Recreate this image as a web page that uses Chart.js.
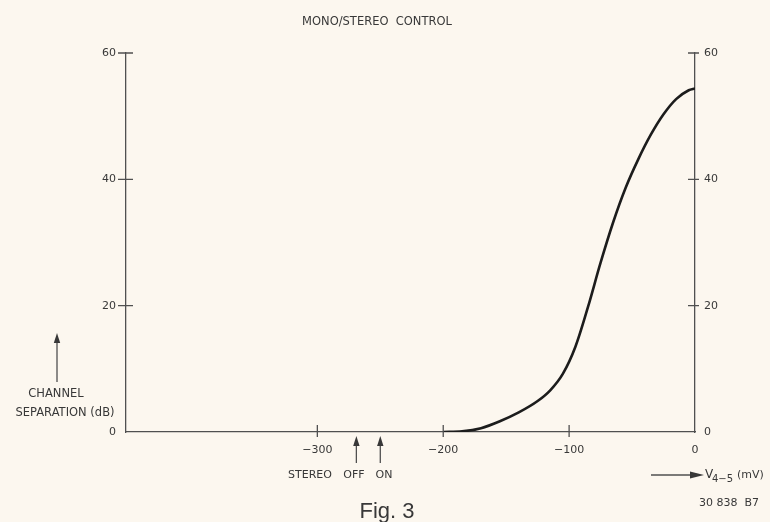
<!DOCTYPE html>
<html>
<head>
<meta charset="utf-8">
<script src="https://cdn.jsdelivr.net/npm/chart.js@4"></script>
<style>
  html, body { margin: 0; padding: 0; background: #fcf7ef; }
  #wrap { width: 770px; height: 522px; }
</style>
</head>
<body>
<div id="wrap"><canvas id="chart"></canvas></div>
<script>
// curve: V4-5 (mV) vs channel separation (dB)
const voltage = [-200, -185, -170, -155, -140, -125, -115, -105, -95, -85, -75, -65, -55, -45, -35, -25, -15, -5, 0];
const separation = [0, 0.1, 0.6, 1.7, 3.1, 4.9, 6.6, 9.2, 13.5, 19.8, 26.8, 33.2, 38.7, 43.2, 47.1, 50.3, 52.7, 54.1, 54.4];

const xTicks = [-300, -200, -100, 0];
const yTicks = [0, 20, 40, 60];
const switchPoints = [-269, -250]; // OFF / ON arrows

const ink = '#383838';
const axisColor = '#505050';
const lab = "'DejaVu Sans', 'Liberation Sans', sans-serif";

const fmt = v => (v < 0 ? '\u2212' + Math.abs(v) : String(v));

function arrowUp(ctx, x, yTip, yTail) {
  ctx.beginPath();
  ctx.moveTo(x, yTail);
  ctx.lineTo(x, yTip + 6);
  ctx.stroke();
  ctx.beginPath();
  ctx.moveTo(x, yTip);
  ctx.lineTo(x - 3.2, yTip + 10);
  ctx.lineTo(x + 3.2, yTip + 10);
  ctx.closePath();
  ctx.fill();
}

const extras = {
  id: 'extras',
  afterDraw(chart) {
    const ctx = chart.ctx;
    const xs = chart.scales.x, yl = chart.scales.y;
    const area = chart.chartArea;
    ctx.save();
    ctx.strokeStyle = axisColor;
    ctx.fillStyle = ink;
    ctx.lineWidth = 1.3;

    // tick marks crossing the axes
    xTicks.forEach(v => {
      if (v === 0) return;
      const px = xs.getPixelForValue(v);
      ctx.beginPath();
      ctx.moveTo(px, area.bottom - 7);
      ctx.lineTo(px, area.bottom + 5);
      ctx.stroke();
    });
    yTicks.forEach(v => {
      if (v === 0) return;
      const py = yl.getPixelForValue(v);
      ctx.beginPath();
      ctx.moveTo(area.left - 8, py);
      ctx.lineTo(area.left + 7, py);
      ctx.moveTo(area.right - 7, py);
      ctx.lineTo(area.right + 4, py);
      ctx.stroke();
    });

    ctx.textAlign = 'center';
    ctx.textBaseline = 'middle';

    // title
    ctx.font = '11.5px ' + lab;
    ctx.fillText('MONO/STEREO  CONTROL', 377, 22);

    // y axis caption
    arrowUp(ctx, 57, 333, 382);
    ctx.fillText('CHANNEL', 56, 394);
    ctx.fillText('SEPARATION (dB)', 65, 413);

    // stereo switch arrows
    ctx.font = '11px ' + lab;
    switchPoints.forEach(v => arrowUp(ctx, xs.getPixelForValue(v), area.bottom + 4, area.bottom + 31));
    ctx.fillText('STEREO', 310, 475);
    ctx.fillText('OFF', 354, 475);
    ctx.fillText('ON', 384, 475);

    // x axis caption
    ctx.beginPath();
    ctx.moveTo(651, 475);
    ctx.lineTo(694, 475);
    ctx.stroke();
    ctx.beginPath();
    ctx.moveTo(704, 475);
    ctx.lineTo(690, 471.5);
    ctx.lineTo(690, 478.5);
    ctx.closePath();
    ctx.fill();
    ctx.textAlign = 'left';
    ctx.font = '12px ' + lab;
    ctx.fillText('V', 705, 475);
    ctx.font = '10px ' + lab;
    ctx.fillText('4\u22125', 712, 479);
    ctx.font = '11px ' + lab;
    ctx.fillText('(mV)', 737, 475);

    ctx.fillText('30 838  B7', 699, 503);

    ctx.textAlign = 'center';
    ctx.font = "22px 'Liberation Sans', sans-serif";
    ctx.fillText('Fig. 3', 387, 512);
    ctx.restore();
  }
};

new Chart(document.getElementById('chart'), {
  type: 'line',
  data: {
    datasets: [{
      data: voltage.map((v, i) => ({ x: v, y: separation[i] })),
      borderColor: '#1c1c1c',
      borderWidth: 2.6,
      pointRadius: 0,
      cubicInterpolationMode: 'monotone',
      fill: false
    }]
  },
  options: {
    responsive: true,
    maintainAspectRatio: false,
    animation: false,
    layout: { padding: { top: 53 } },
    plugins: { legend: { display: false }, tooltip: { enabled: false } },
    scales: {
      x: {
        type: 'linear',
        min: -452,
        max: 0,
        afterBuildTicks: s => { s.ticks = xTicks.map(v => ({ value: v })); },
        afterFit: s => { s.height = 90; },
        grid: { display: false, drawTicks: false },
        border: { display: true, color: axisColor, width: 1.3 },
        ticks: { color: ink, padding: 12, maxRotation: 0, font: { family: lab, size: 11 }, callback: v => fmt(v) }
      },
      y: {
        min: 0,
        max: 60,
        afterBuildTicks: s => { s.ticks = yTicks.map(v => ({ value: v })); },
        afterFit: s => { s.width = 126; },
        grid: { display: false, drawTicks: false },
        border: { display: true, color: axisColor, width: 1.3 },
        ticks: { color: ink, padding: 10, font: { family: lab, size: 11 }, callback: v => fmt(v) }
      },
      y2: {
        position: 'right',
        min: 0,
        max: 60,
        afterBuildTicks: s => { s.ticks = yTicks.map(v => ({ value: v })); },
        afterFit: s => { s.width = 75; },
        grid: { display: false, drawTicks: false },
        border: { display: true, color: axisColor, width: 1.3 },
        ticks: { color: ink, padding: 9, font: { family: lab, size: 11 }, callback: v => fmt(v) }
      }
    }
  },
  plugins: [extras]
});
</script>
</body>
</html>
